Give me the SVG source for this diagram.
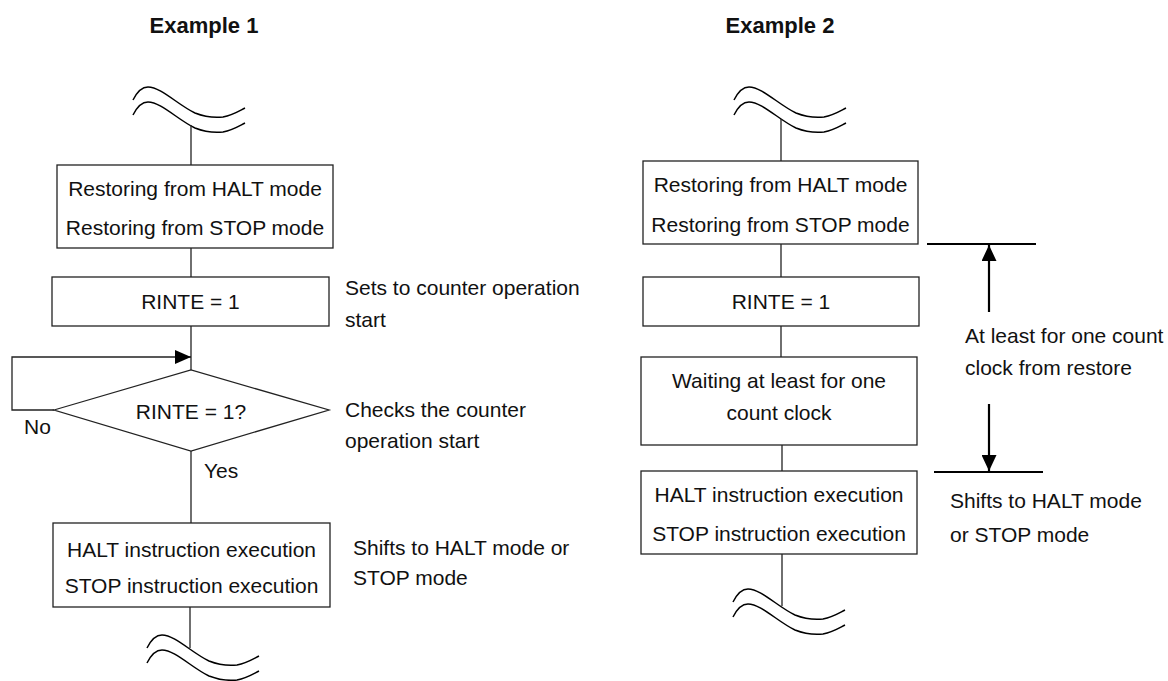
<svg xmlns="http://www.w3.org/2000/svg" xmlns:xlink="http://www.w3.org/1999/xlink" width="1168" height="681" viewBox="0 0 1168 681">
<style>
text{font-family:"Liberation Sans",Arial,Helvetica,sans-serif;font-size:21px;fill:#111}
.title{font-weight:bold;font-size:22px;text-anchor:middle}
.c{text-anchor:middle}
.box{fill:#fff;stroke:#222;stroke-width:1.3}
.ln{fill:none;stroke:#222;stroke-width:1.3}
.dim{fill:none;stroke:#000;stroke-width:2.2}
.wave{fill:none;stroke:#000;stroke-width:1.5}
</style>
<defs>
<path id="wv" d="M0,0 C4,-8 9,-13 15,-13 C28,-13 45,5 62,13 C72,17 80,18 90,17 C100,15 106,11 112,8"/>
<marker id="ah" viewBox="0 0 16 14" refX="16" refY="7" markerWidth="16" markerHeight="14" markerUnits="userSpaceOnUse" orient="auto">
<path d="M0,0 L16,7 L0,14 Z" fill="#000"/>
</marker>
<marker id="ah2" viewBox="0 0 16 15" refX="16" refY="7.5" markerWidth="16" markerHeight="15" markerUnits="userSpaceOnUse" orient="auto">
<path d="M0,0 L16,7.5 L0,15 Z" fill="#000"/>
</marker>
</defs>

<text class="title" x="204" y="33">Example 1</text>
<text class="title" x="780" y="33">Example 2</text>

<g id="waves">
<use xlink:href="#wv" class="wave" x="133" y="100"/>
<use xlink:href="#wv" class="wave" x="133" y="115"/>
<use xlink:href="#wv" class="wave" x="147" y="648"/>
<use xlink:href="#wv" class="wave" x="147" y="663"/>
<use xlink:href="#wv" class="wave" x="734" y="100"/>
<use xlink:href="#wv" class="wave" x="734" y="115"/>
<use xlink:href="#wv" class="wave" x="733" y="602"/>
<use xlink:href="#wv" class="wave" x="733" y="617"/>
</g>

<g id="connectors">
<line class="ln" x1="191" y1="125" x2="191" y2="165"/>
<line class="ln" x1="191" y1="248" x2="191" y2="277"/>
<line class="ln" x1="191" y1="326" x2="191" y2="370"/>
<polyline class="ln" points="54,410 12,410 12,357 191,357" marker-end="url(#ah)"/>
<line class="ln" x1="191" y1="451" x2="191" y2="523"/>
<line class="ln" x1="190" y1="607" x2="190" y2="648"/>
<line class="ln" x1="781" y1="119" x2="781" y2="161"/>
<line class="ln" x1="781" y1="244" x2="781" y2="277"/>
<line class="ln" x1="781" y1="326" x2="781" y2="357"/>
<line class="ln" x1="782" y1="445" x2="782" y2="471"/>
<line class="ln" x1="782" y1="554" x2="782" y2="606"/>
<line class="dim" x1="927" y1="244" x2="1036" y2="244"/>
<line class="dim" x1="989" y1="312" x2="989" y2="245" marker-end="url(#ah2)"/>
<line class="dim" x1="934" y1="472" x2="1043" y2="472"/>
<line class="dim" x1="989" y1="404" x2="989" y2="471" marker-end="url(#ah2)"/>
</g>

<g id="ex1-restore">
<rect class="box" x="57" y="165" width="276" height="83"/>
<text class="c" x="195" y="196">Restoring from HALT mode</text>
<text class="c" x="195" y="235">Restoring from STOP mode</text>
</g>
<g id="ex1-rinte">
<rect class="box" x="52" y="277" width="277" height="49"/>
<text class="c" x="190.5" y="309">RINTE = 1</text>
</g>
<g id="ex1-check">
<polygon class="box" points="54,410 191,370 329,410 191,451"/>
<text class="c" x="191" y="419">RINTE = 1?</text>
</g>
<g id="ex1-halt">
<rect class="box" x="53" y="523" width="277" height="84"/>
<text class="c" x="191.5" y="557">HALT instruction execution</text>
<text class="c" x="191.5" y="593">STOP instruction execution</text>
</g>
<g id="ex1-labels">
<text x="24" y="434">No</text>
<text x="204" y="478">Yes</text>
<text x="345" y="295">Sets to counter operation</text>
<text x="345" y="327">start</text>
<text x="345" y="417">Checks the counter</text>
<text x="345" y="448">operation start</text>
<text x="353" y="555">Shifts to HALT mode or</text>
<text x="353" y="585">STOP mode</text>
</g>

<g id="ex2-restore">
<rect class="box" x="643" y="161" width="275" height="83"/>
<text class="c" x="780.5" y="192">Restoring from HALT mode</text>
<text class="c" x="780.5" y="232">Restoring from STOP mode</text>
</g>
<g id="ex2-rinte">
<rect class="box" x="643" y="277" width="276" height="49"/>
<text class="c" x="781" y="309">RINTE = 1</text>
</g>
<g id="ex2-wait">
<rect class="box" x="641" y="357" width="276" height="88"/>
<text class="c" x="779" y="388">Waiting at least for one</text>
<text class="c" x="779" y="420">count clock</text>
</g>
<g id="ex2-halt">
<rect class="box" x="641" y="471" width="276" height="83"/>
<text class="c" x="779" y="502">HALT instruction execution</text>
<text class="c" x="779" y="541">STOP instruction execution</text>
</g>
<g id="ex2-labels">
<text x="965" y="343">At least for one count</text>
<text x="965" y="375">clock from restore</text>
<text x="950" y="508">Shifts to HALT mode</text>
<text x="950" y="542">or STOP mode</text>
</g>
</svg>
